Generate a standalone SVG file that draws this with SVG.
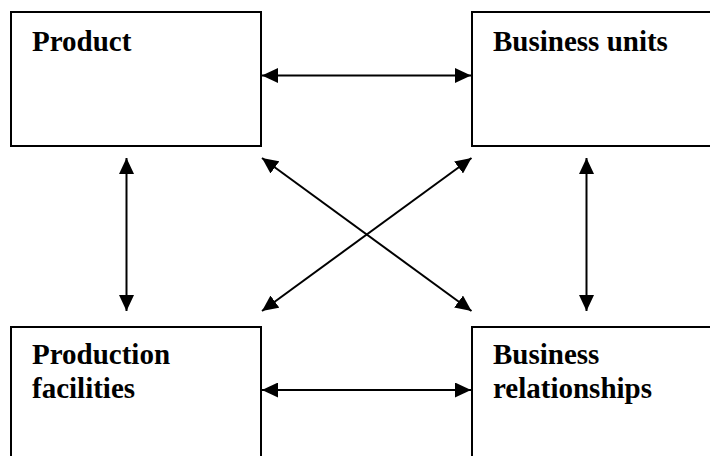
<svg xmlns="http://www.w3.org/2000/svg" width="710" height="456" viewBox="0 0 710 456">
<style>
.box{fill:#fff;stroke:#000;stroke-width:2}
.lbl{font-family:"Liberation Serif","Times New Roman",serif;font-weight:bold;font-size:29px;fill:#000}
.con line{stroke:#000;stroke-width:2}
</style>
<defs>
<marker id="ah" viewBox="0 0 16 15" refX="16" refY="7.5" markerWidth="16" markerHeight="15" markerUnits="userSpaceOnUse" orient="auto-start-reverse">
<path d="M0,0 L16,7.5 L0,15 Z" fill="#000"/>
</marker>
</defs>
<rect width="710" height="456" fill="#fff"/>
<g id="product">
<rect class="box" x="11" y="12" width="250" height="134"/>
<text class="lbl" x="32" y="51">Product</text>
</g>
<g id="business-units">
<rect class="box" x="472" y="12" width="250" height="134"/>
<text class="lbl" x="493" y="51">Business units</text>
</g>
<g id="production-facilities">
<rect class="box" x="11" y="327" width="250" height="140"/>
<text class="lbl" x="32" y="364">Production</text>
<text class="lbl" x="32" y="398">facilities</text>
</g>
<g id="business-relationships">
<rect class="box" x="472" y="327" width="250" height="140"/>
<text class="lbl" x="493" y="364">Business</text>
<text class="lbl" x="493" y="398">relationships</text>
</g>
<g id="connectors" class="con">
<line x1="262" y1="75.5" x2="471" y2="75.5" marker-start="url(#ah)" marker-end="url(#ah)"/>
<line x1="262" y1="390" x2="471" y2="390" marker-start="url(#ah)" marker-end="url(#ah)"/>
<line x1="126.5" y1="158" x2="126.5" y2="311" marker-start="url(#ah)" marker-end="url(#ah)"/>
<line x1="586.5" y1="158" x2="586.5" y2="311" marker-start="url(#ah)" marker-end="url(#ah)"/>
<line x1="262" y1="158" x2="471.5" y2="311" marker-start="url(#ah)" marker-end="url(#ah)"/>
<line x1="471.5" y1="158" x2="262" y2="311" marker-start="url(#ah)" marker-end="url(#ah)"/>
</g>
</svg>
